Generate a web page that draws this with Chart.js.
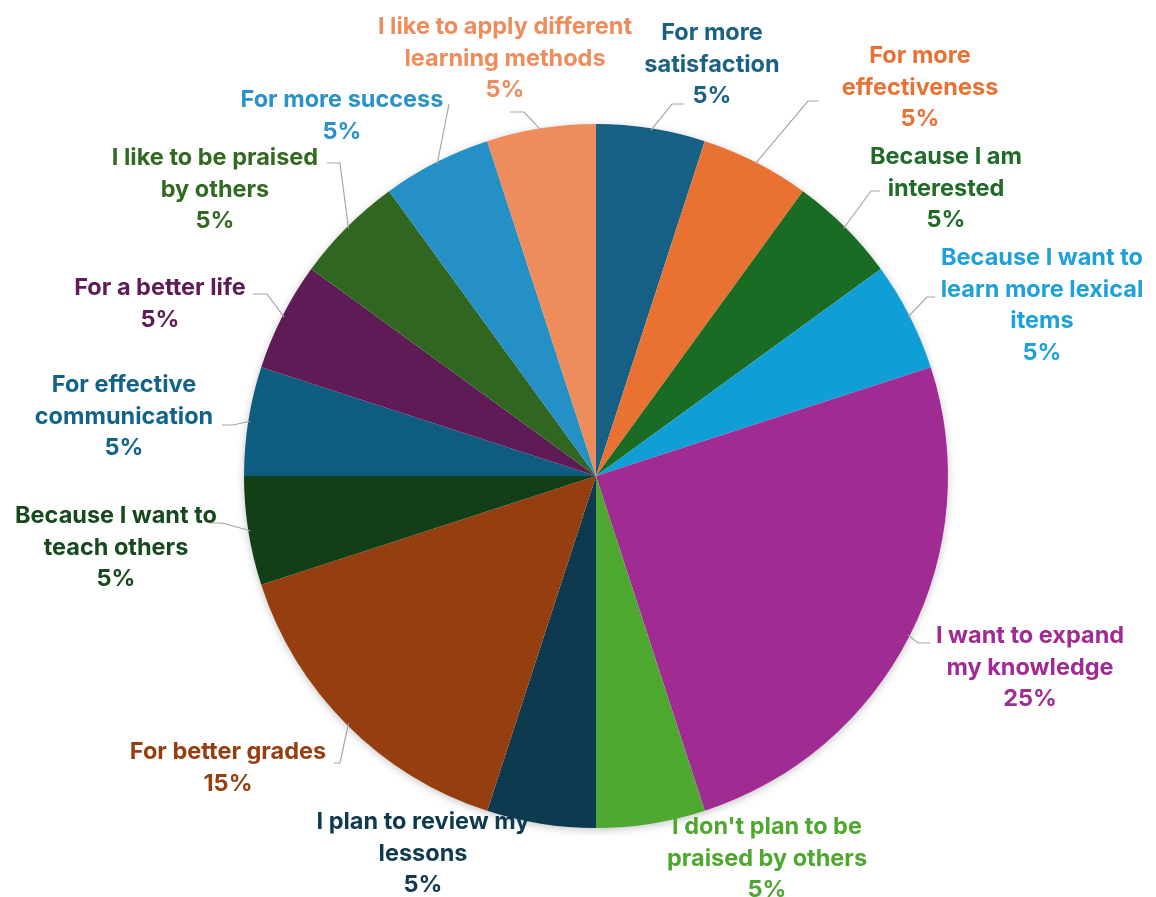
<!DOCTYPE html>
<html>
<head>
<meta charset="utf-8">
<script src="https://cdn.jsdelivr.net/npm/chart.js@4.4.1/dist/chart.umd.min.js"></script>
<style>
  html, body { margin: 0; padding: 0; background: #fff; }
  #wrap { width: 1156px; height: 897px; }
</style>
</head>
<body>
<div id="wrap"><canvas id="pie" width="1156" height="897"></canvas></div>
<script>
// slices, clockwise from 12 o'clock
const categories = [
  'For more satisfaction',
  'For more effectiveness',
  'Because I am interested',
  'Because I want to learn more lexical items',
  'I want to expand my knowledge',
  "I don't plan to be praised by others",
  'I plan to review my lessons',
  'For better grades',
  'Because I want to teach others',
  'For effective communication',
  'For a better life',
  'I like to be praised by others',
  'For more success',
  'I like to apply different learning methods'
];
const shares = [5, 5, 5, 5, 25, 5, 5, 15, 5, 5, 5, 5, 5, 5];

// how each label is broken into lines
const labelLines = [
  ['For more', 'satisfaction'],
  ['For more', 'effectiveness'],
  ['Because I am', 'interested'],
  ['Because I want to', 'learn more lexical', 'items'],
  ['I want to expand', 'my knowledge'],
  ["I don't plan to be", 'praised by others'],
  ['I plan to review my', 'lessons'],
  ['For better grades'],
  ['Because I want to', 'teach others'],
  ['For effective', 'communication'],
  ['For a better life'],
  ['I like to be praised', 'by others'],
  ['For more success'],
  ['I like to apply different', 'learning methods']
];

const sliceColors = [
  '#176085', '#e97132', '#1a6b24', '#109ed6', '#a02b93', '#4ea72e', '#0e3a50',
  '#953f11', '#123f18', '#0f5c81', '#5f1b55', '#30661f', '#2590c6', '#ee8c5c'
];
const textColors = [
  '#1a6184', '#e97132', '#1f6b27', '#1ea0d8', '#a02b93', '#4ea72e', '#0e3a50',
  '#953f11', '#164a1c', '#12638a', '#5f1b55', '#326a22', '#2a92c8', '#ee8c5c'
];

// label placement: text centre x, first line y, leader elbow and stub end
const labelLayout = [
  { x: 712, y: 33,  elbow: [672, 104], stub: 684 },
  { x: 920, y: 56,  elbow: [808, 101], stub: 819 },
  { x: 946, y: 157, elbow: [871, 191], stub: 880 },
  { x: 1042, y: 258, elbow: [927, 297], stub: 935 },
  { x: 1030, y: 636, elbow: [918, 643], stub: 930 },
  { x: 767, y: 827, elbow: null },
  { x: 423, y: 822, elbow: null },
  { x: 228, y: 752, elbow: [340, 763], stub: 334 },
  { x: 116, y: 516, elbow: [222, 523], stub: 210 },
  { x: 124, y: 385, elbow: [233, 425], stub: 222 },
  { x: 160, y: 288, elbow: [267, 294], stub: 253 },
  { x: 215, y: 158, elbow: [340, 163], stub: 327 },
  { x: 342, y: 100, elbow: [449, 104], stub: 449 },
  { x: 505, y: 27,  elbow: [524, 112], stub: 510 }
];

const LINE_H = 31.5;
const FONT = '700 23.5px Inter, "Open Sans", sans-serif';

const pieShadow = {
  id: 'pieShadow',
  beforeDatasetsDraw(chart) {
    const arc = chart.getDatasetMeta(0).data[0];
    if (!arc) return;
    const { x, y, outerRadius } = arc.getProps(['x', 'y', 'outerRadius'], true);
    const ctx = chart.ctx;
    ctx.save();
    ctx.shadowColor = 'rgba(0,0,0,0.28)';
    ctx.shadowBlur = 10;
    ctx.shadowOffsetY = 2;
    ctx.fillStyle = '#fff';
    ctx.beginPath();
    ctx.arc(x, y, outerRadius - 1, 0, Math.PI * 2);
    ctx.fill();
    ctx.restore();
  }
};

const outsideLabels = {
  id: 'outsideLabels',
  afterDatasetsDraw(chart) {
    const ctx = chart.ctx;
    const total = shares.reduce((a, b) => a + b, 0);
    chart.getDatasetMeta(0).data.forEach((arc, i) => {
      const p = arc.getProps(['x', 'y', 'startAngle', 'endAngle', 'outerRadius'], true);
      const mid = (p.startAngle + p.endAngle) / 2;
      const lay = labelLayout[i];

      // leader line
      if (lay.elbow) {
        ctx.save();
        ctx.strokeStyle = '#a6a6a6';
        ctx.lineWidth = 1.2;
        ctx.beginPath();
        ctx.moveTo(p.x + Math.cos(mid) * (p.outerRadius - 2), p.y + Math.sin(mid) * (p.outerRadius - 2));
        ctx.lineTo(lay.elbow[0], lay.elbow[1]);
        ctx.lineTo(lay.stub, lay.elbow[1]);
        ctx.stroke();
        ctx.restore();
      }

      // text
      const lines = labelLines[i].concat([Math.round(shares[i] / total * 100) + '%']);
      ctx.save();
      ctx.font = FONT;
      ctx.fillStyle = textColors[i];
      ctx.textAlign = 'center';
      ctx.textBaseline = 'middle';
      lines.forEach((t, k) => ctx.fillText(t, lay.x, lay.y + k * LINE_H));
      ctx.restore();
    });
  }
};

new Chart(document.getElementById('pie'), {
  type: 'pie',
  data: {
    labels: categories,
    datasets: [{
      data: shares,
      backgroundColor: sliceColors,
      borderWidth: 0
    }]
  },
  options: {
    responsive: false,
    animation: false,
    layout: { padding: { top: 124, bottom: 69, left: 244, right: 208 } },
    plugins: {
      legend: { display: false },
      tooltip: { enabled: false }
    }
  },
  plugins: [pieShadow, outsideLabels]
});
</script>
</body>
</html>
